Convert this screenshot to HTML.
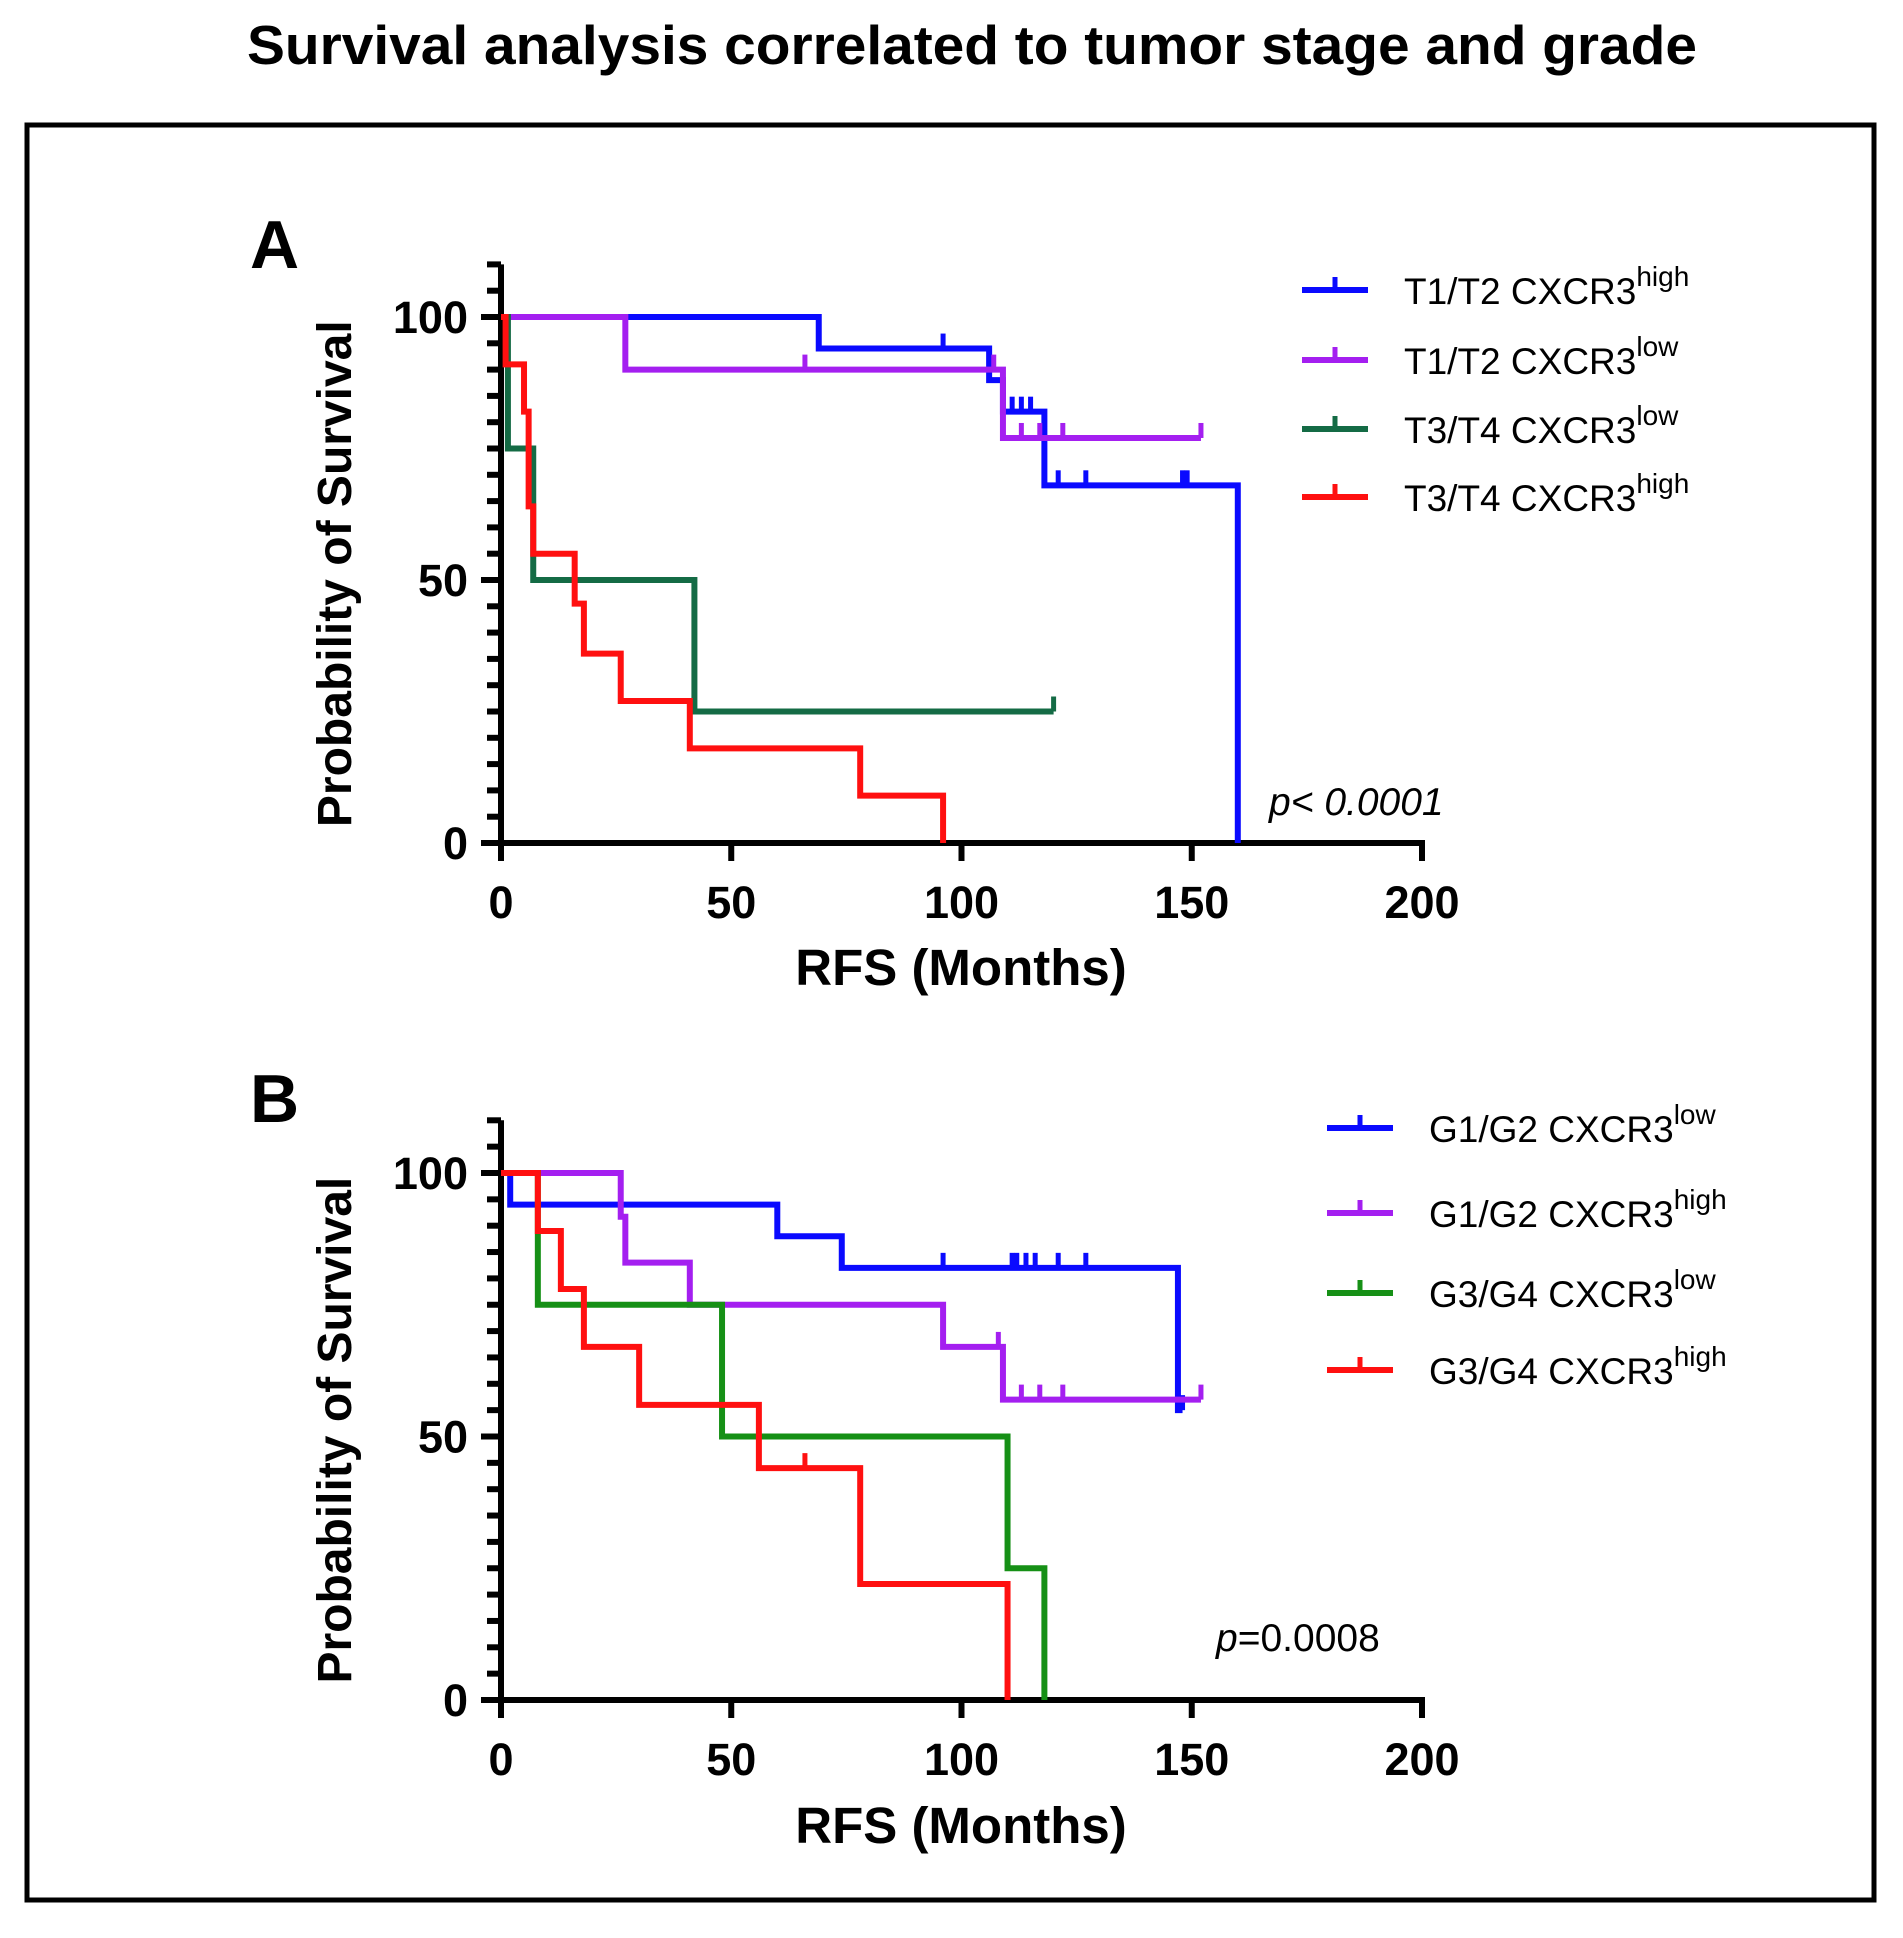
<!DOCTYPE html>
<html><head><meta charset="utf-8">
<style>
html,body{margin:0;padding:0;background:#fff;}
svg text{font-family:"Liberation Sans",Arial,sans-serif;}
</style></head>
<body>
<svg id="fig" width="1903" height="1933" viewBox="0 0 1903 1933" xmlns="http://www.w3.org/2000/svg">
<text x="972" y="64" text-anchor="middle" font-size="55" font-weight="bold" textLength="1450" lengthAdjust="spacingAndGlyphs">Survival analysis correlated to tumor stage and grade</text>
<rect x="27" y="125" width="1847" height="1775" fill="none" stroke="#000" stroke-width="5"/>
<g id="panelA"></g>
<g id="panelB"></g>
</svg>
<script>
// ---- Panel A data ----
const aNames = ["T1/T2 CXCR3", "T1/T2 CXCR3", "T3/T4 CXCR3", "T3/T4 CXCR3"];
const aSups = ["high", "low", "low", "high"];
const aColors = ["#0a0aff", "#a41ff0", "#146b45", "#ff1010"];
const aTimes = [
  [0, 69, 106, 109, 118, 160],
  [0, 27, 109],
  [0, 1.5, 7, 42],
  [0, 1, 5, 6, 7, 16, 18, 26, 41, 78, 96]
];
const aSurv = [
  [100, 94, 88, 82, 68, 0],
  [100, 90, 77],
  [100, 75, 50, 25],
  [100, 91, 82, 64, 55, 45.5, 36, 27, 18, 9, 0]
];
const aEnd = [160, 152, 120, 96];
const aCensT = [
  [96, 111, 113, 115, 121, 127, 148, 149],
  [66, 107, 113, 117, 122, 152],
  [120],
  []
];
const aCensS = [
  [94, 82, 82, 82, 68, 68, 68, 68],
  [90, 90, 77, 77, 77, 77],
  [25],
  []
];
// ---- Panel B data ----
const bNames = ["G1/G2 CXCR3", "G1/G2 CXCR3", "G3/G4 CXCR3", "G3/G4 CXCR3"];
const bSups = ["low", "high", "low", "high"];
const bColors = ["#0a0aff", "#a41ff0", "#169016", "#ff1010"];
const bTimes = [
  [0, 2, 60, 74, 147],
  [0, 26, 27, 41, 96, 109],
  [0, 8, 48, 110, 118],
  [0, 8, 13, 18, 30, 56, 78, 110]
];
const bSurv = [
  [100, 94, 88, 82, 55],
  [100, 91.7, 83, 75, 67, 57],
  [100, 75, 50, 25, 0],
  [100, 89, 78, 67, 56, 44, 22, 0]
];
const bEnd = [148, 152, 118, 110];
const bCensT = [
  [96, 111, 112, 114, 116, 121, 127, 148],
  [108, 113, 117, 122, 152],
  [],
  [66]
];
const bCensS = [
  [82, 82, 82, 82, 82, 82, 82, 55],
  [67, 57, 57, 57, 57],
  [],
  [44]
];
const xTicks = [0, 50, 100, 150, 200];
const yTicks = [0, 50, 100];

const NS = "http://www.w3.org/2000/svg";
function mk(parent, tag, attrs) {
  const e = document.createElementNS(NS, tag);
  for (const k in attrs) e.setAttribute(k, attrs[k]);
  parent.appendChild(e);
  return e;
}

function drawPanel(g, cfg) {
  const X0 = 501, X1 = 1422, Y0 = cfg.y0, Y100 = cfg.y100;
  const xs = v => X0 + (X1 - X0) * v / 200;
  const ys = v => Y0 - (Y0 - Y100) * v / 100;
  const lt = mk(g, "text", {x: 250, y: cfg.letterY, "font-size": 68, "font-weight": "bold"});
  lt.textContent = cfg.letter;
  
  
  const yt = mk(g, "text", {x: 0, y: 0, "font-size": 48, "font-weight": "bold", "text-anchor": "middle", transform: `translate(351 ${(Y0 + ys(110)) / 2 + 20}) rotate(-90)`});
  yt.textContent = "Probability of Survival";
  
  
  const xt = mk(g, "text", {x: 961, y: cfg.xTitleY, "font-size": 51, "font-weight": "bold", "text-anchor": "middle"});
  xt.textContent = "RFS (Months)";
  
  
  const ax = mk(g, "g", {stroke: "#000", "stroke-width": 6});
  
  
  mk(ax, "line", {x1: X0, y1: ys(110), x2: X0, y2: Y0 + 3});
  mk(ax, "line", {x1: X0 - 3, y1: Y0, x2: X1 + 3, y2: Y0});
  for (let v = 0; v <= 110; v += 5) {
    const major = yTicks.includes(v);
    mk(ax, "line", {x1: X0 - (major ? 20 : 14), y1: ys(v), x2: X0, y2: ys(v)});
  }
  xTicks.forEach(v => mk(ax, "line", {x1: xs(v), y1: Y0, x2: xs(v), y2: Y0 + 18}));
  yTicks.forEach(v => {
    const t = mk(g, "text", {x: 468, y: ys(v) + 16, "font-size": 45, "font-weight": "bold", "text-anchor": "end"});
    t.textContent = v;
    
    
  });
  xTicks.forEach(v => {
    const t = mk(g, "text", {x: xs(v), y: cfg.xTickY, "font-size": 45, "font-weight": "bold", "text-anchor": "middle"});
    t.textContent = v;
    
    
  });
  cfg.times.forEach((tt, i) => {
    const sv = cfg.surv[i];
    let d = `M${xs(tt[0])},${ys(sv[0])}`;
    for (let k = 1; k < tt.length; k++) {
      d += ` H${xs(tt[k])} V${ys(sv[k])}`;
    }
    d += ` H${xs(cfg.end[i])}`;
    const p = mk(g, "path", {d: d, fill: "none", stroke: cfg.colors[i], "stroke-width": 6, "stroke-linejoin": "miter"});
    
    
    cfg.censT[i].forEach((c, j) => {
      const m = mk(g, "line", {x1: xs(c), y1: ys(cfg.censS[i][j]), x2: xs(c), y2: ys(cfg.censS[i][j]) - 15, stroke: cfg.colors[i], "stroke-width": 5});
      
      
    });
    const ly = cfg.legY[i];
    const lg = mk(g, "g", {});
    
    
    mk(lg, "line", {x1: cfg.legX, y1: ly, x2: cfg.legX + 66, y2: ly, stroke: cfg.colors[i], "stroke-width": 6});
    mk(lg, "line", {x1: cfg.legX + 33, y1: ly, x2: cfg.legX + 33, y2: ly - 13, stroke: cfg.colors[i], "stroke-width": 5});
    const tx = mk(lg, "text", {x: cfg.legX + 102, y: ly + 14, "font-size": 37});
    tx.textContent = cfg.names[i];
    const sp = mk(tx, "tspan", {dy: -18, "font-size": 28});
    sp.textContent = cfg.sups[i];
  });
  const pv = mk(g, "text", {x: cfg.pX, y: cfg.pY, "font-size": 39});
  const pi = mk(pv, "tspan", {"font-style": "italic"});
  pi.textContent = "p";
  const pr = mk(pv, "tspan", {"font-style": cfg.pItalic ? "italic" : "normal"});
  pr.textContent = cfg.pText;
  
  
}

drawPanel(document.getElementById("panelA"), {
  letter: "A", letterY: 268, y0: 843, y100: 317, xTickY: 918, xTitleY: 985,
  times: aTimes, surv: aSurv, end: aEnd, censT: aCensT, censS: aCensS,
  colors: aColors, names: aNames, sups: aSups,
  legX: 1302, legY: [290, 360, 429, 497],
  pX: 1269, pY: 815, pText: "< 0.0001", pItalic: true
});
drawPanel(document.getElementById("panelB"), {
  letter: "B", letterY: 1122, y0: 1700, y100: 1173, xTickY: 1775, xTitleY: 1843,
  times: bTimes, surv: bSurv, end: bEnd, censT: bCensT, censS: bCensS,
  colors: bColors, names: bNames, sups: bSups,
  legX: 1327, legY: [1128, 1213, 1293, 1370],
  pX: 1216, pY: 1651, pText: "=0.0008", pItalic: false
});
</script>
</body></html>
